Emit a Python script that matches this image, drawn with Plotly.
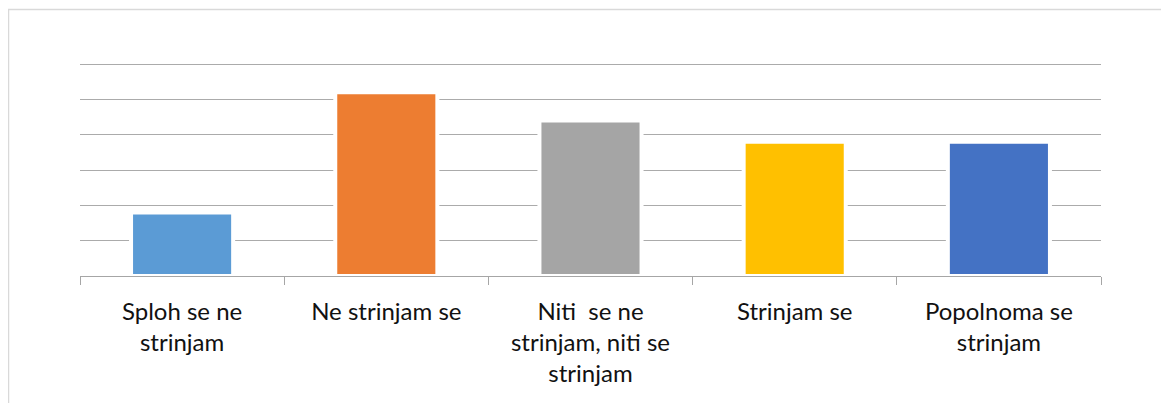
import plotly.graph_objects as go

categories = [
    "Sploh se ne<br>strinjam",
    "Ne strinjam se",
    "Niti\u00a0 se ne<br>strinjam, niti se<br>strinjam",
    "Strinjam se",
    "Popolnoma se<br>strinjam",
]
values = [1.8, 5.2, 4.4, 3.8, 3.8]
colors = ["#5B9BD5", "#ED7D31", "#A5A5A5", "#FFC000", "#4472C4"]

fig = go.Figure(
    go.Bar(
        x=categories,
        y=values,
        marker=dict(color=colors, line=dict(color="white", width=4)),
        hoverinfo="x+y",
    )
)

# page has an 8px body margin, figure sized to fit the window
W, H = 1161, 395
unit = 212 / 6.0
ymax = 6.2
L = 72
pw = 1021
ph = unit * ymax
T = 56 - unit * (ymax - 6)
R, B = W - L - pw, H - T - ph


def px_x(p):
    return (p - L) / pw


def px_y(p):
    return (T + ph - p) / ph


fig.update_layout(
    width=W,
    height=H,
    margin=dict(l=L, r=R, t=T, b=B, pad=0),
    paper_bgcolor="white",
    plot_bgcolor="white",
    bargap=0.5,
    showlegend=False,
    font=dict(family="Lato, 'Open Sans', sans-serif", size=24, color="#111111"),
    xaxis=dict(
        type="category",
        showline=True,
        linecolor="#a6a6a6",
        linewidth=1,
        ticks="outside",
        tickson="boundaries",
        ticklen=8,
        tickcolor="#a6a6a6",
        tickwidth=1,
        showgrid=False,
        tickangle=0,
        ticklabelstandoff=14,
    ),
    yaxis=dict(
        range=[0, ymax],
        dtick=1,
        showticklabels=False,
        showgrid=True,
        gridcolor="#ababab",
        gridwidth=1,
        zeroline=False,
        fixedrange=True,
    ),
    shapes=[
        dict(
            type="rect",
            xref="paper",
            yref="paper",
            x0=px_x(0.5),
            x1=px_x(1200),
            y0=px_y(420),
            y1=px_y(1.5),
            line=dict(color="#d9d9d9", width=1.5),
            layer="below",
        )
    ],
)

fig.write_html("out.html")
